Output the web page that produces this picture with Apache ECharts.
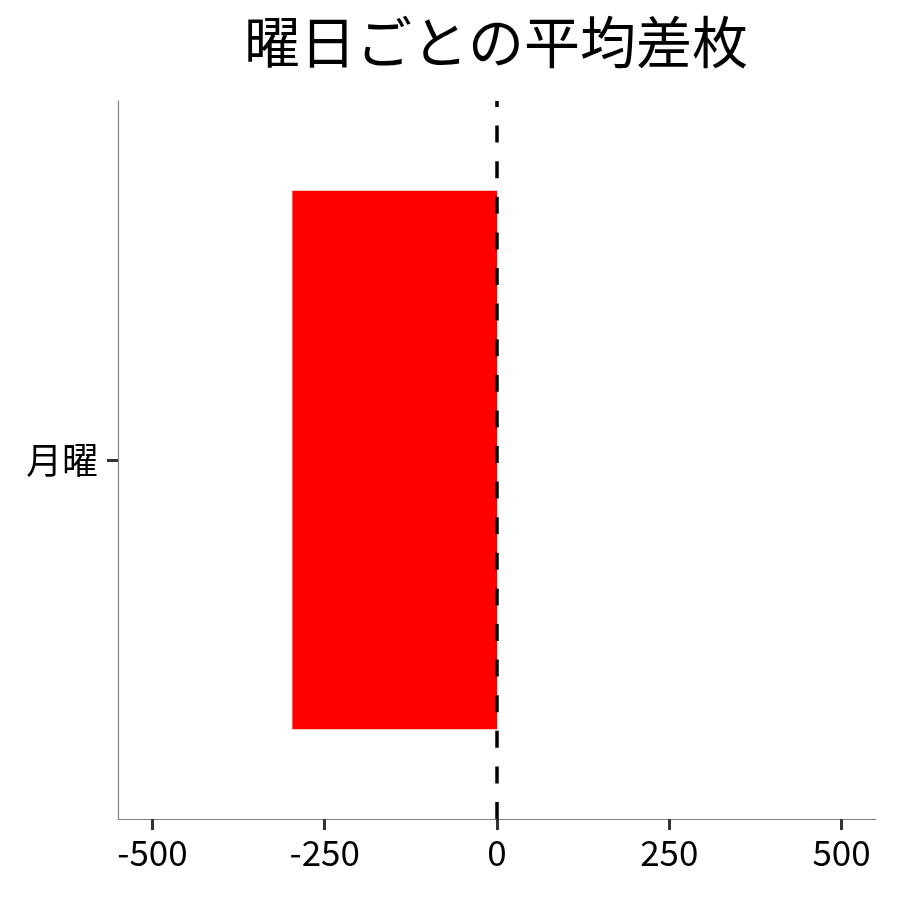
<!DOCTYPE html>
<html>
<head>
<meta charset="utf-8">
<script src="https://cdn.jsdelivr.net/npm/echarts@6/dist/echarts.min.js"></script>
<style>
  html, body { margin: 0; padding: 0; background: #fff; }
  #main { width: 900px; height: 900px; }
</style>
</head>
<body>
<div id="main"></div>
<script>
// 曜日ごとの平均差枚
var weekdays = ['月曜'];
var avgDiff = [-297];
var xTicks = [-500, -250, 0, 250, 500];

var FONT = 'Noto Sans CJK JP';
var chart = echarts.init(document.getElementById('main'));

var option = {
    backgroundColor: '#fff',
    animation: false,
    title: {
        text: '曜日ごとの平均差枚',
        left: 491,
        top: 9,
        textAlign: 'center',
        textStyle: { fontFamily: FONT, fontSize: 56, fontWeight: 'normal', color: '#000' }
    },
    grid: { left: 118, right: 24, top: 101, bottom: 81 },
    xAxis: {
        type: 'value',
        min: -550,
        max: 550,
        axisLine: { show: true, onZero: false, lineStyle: { color: '#808080', width: 1.2 } },
        axisTick: { show: true, length: 11, customValues: xTicks, lineStyle: { color: '#333', width: 3 } },
        axisLabel: { customValues: xTicks, margin: 16, fontFamily: FONT, fontSize: 35, color: '#000' },
        splitLine: { show: false }
    },
    yAxis: {
        type: 'category',
        data: weekdays,
        axisLine: { show: true, onZero: false, lineStyle: { color: '#808080', width: 1.2 } },
        axisTick: { show: true, alignWithLabel: true, length: 11, lineStyle: { color: '#333', width: 3 } },
        axisLabel: { margin: 20, fontFamily: FONT, fontSize: 36, color: '#000' },
        splitLine: { show: false }
    },
    series: [{
        type: 'bar',
        data: avgDiff,
        barCategoryGap: '25%',
        itemStyle: { color: '#ff0000' },
        markLine: {
            silent: true,
            symbol: 'none',
            label: { show: false },
            lineStyle: { color: '#000', width: 3.5, type: [17, 18.6], dashOffset: 0 },
            data: [{ xAxis: 0 }]
        }
    }]
};

chart.setOption(option);
</script>
</body>
</html>
